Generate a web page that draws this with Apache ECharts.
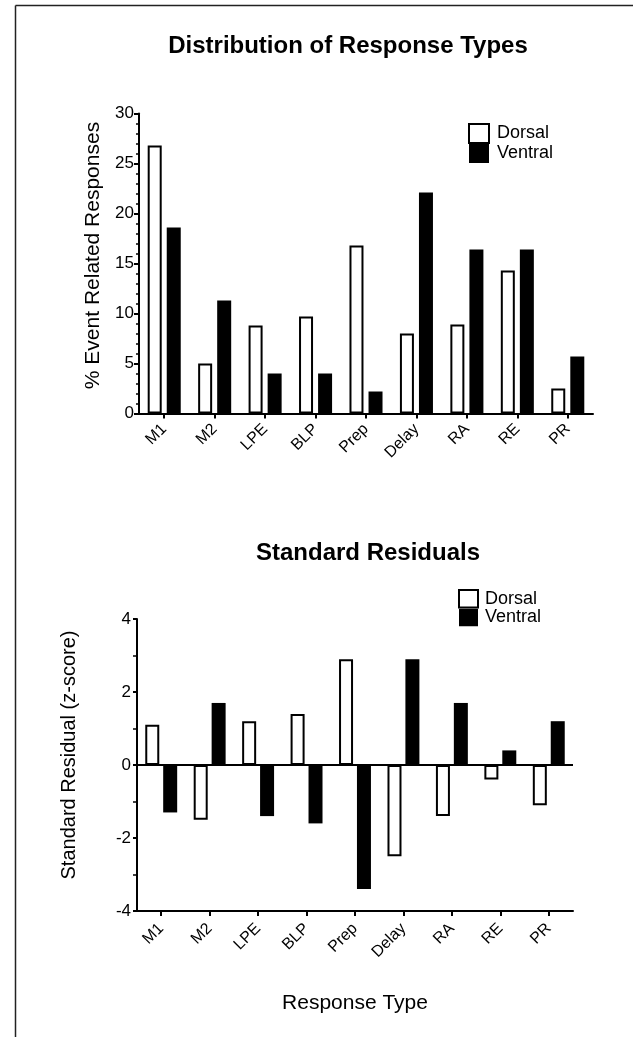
<!DOCTYPE html>
<html>
<head>
<meta charset="utf-8">
<script src="https://cdn.jsdelivr.net/npm/echarts@6/dist/echarts.min.js"></script>
<style>
html,body{margin:0;padding:0;background:#fff;}
#chart{width:633px;height:1037px;}
</style>
</head>
<body>
<div id="chart"></div>
<script>
const categories = ['M1','M2','LPE','BLP','Prep','Delay','RA','RE','PR'];
const dorsalPct = [26.8, 5.0, 8.8, 9.7, 16.8, 8.0, 8.9, 14.3, 2.5];
const ventralPct = [18.6, 11.3, 4.0, 4.0, 2.2, 22.1, 16.4, 16.4, 5.7];
const dorsalZ = [1.1, -1.5, 1.2, 1.4, 2.9, -2.5, -1.4, -0.4, -1.1];
const ventralZ = [-1.3, 1.7, -1.4, -1.6, -3.4, 2.9, 1.7, 0.4, 1.2];
const topTicks = [0, 5, 10, 15, 20, 25, 30];
const bottomTicks = [-4, -2, 0, 2, 4];
const seriesNames = ['Dorsal', 'Ventral'];

const FONT = '"Liberation Sans", Arial, Helvetica, sans-serif';
const chart = echarts.init(document.getElementById('chart'), null, {renderer: 'canvas'});

const axisLine = {show: true, onZero: false, lineStyle: {color: '#000', width: 2}};
const xAxisCommon = (gi, margin, extra) => Object.assign({
  type: 'category', gridIndex: gi, data: categories,
  axisLine: axisLine,
  axisTick: {show: true, alignWithLabel: true, length: 5, lineStyle: {color: '#000', width: 2}},
  axisLabel: {rotate: 45, margin: margin, color: '#000', fontSize: 16, fontFamily: FONT, interval: 0},
  splitLine: {show: false}
}, extra || {});

const dorsalStyle = {color: '#fff', borderColor: '#000', borderWidth: 2};
const ventralStyle = {color: '#000', borderColor: '#000', borderWidth: 0};

const option = {
  backgroundColor: '#fff',
  animation: false,
  textStyle: {fontFamily: FONT},
  title: [
    {text: 'Distribution of Response Types', left: 348, top: 34, textAlign: 'center', padding: 0,
     textStyle: {fontSize: 24, fontWeight: 'bold', color: '#000', fontFamily: FONT}},
    {text: 'Standard Residuals', left: 368, top: 541, textAlign: 'center', padding: 0,
     textStyle: {fontSize: 24, fontWeight: 'bold', color: '#000', fontFamily: FONT}}
  ],
  legend: [
    {data: seriesNames.map(n => ({name: n})), orient: 'vertical', left: 468, top: 123, itemGap: 0,
     itemWidth: 20, itemHeight: 19, icon: 'rect', padding: 0,
     textStyle: {fontSize: 18, color: '#000', fontFamily: FONT, padding: [0, 0, 0, 3]},
     seriesIndex: [0, 1]},
    {data: seriesNames.map(n => ({name: n})), orient: 'vertical', left: 458, top: 589, itemGap: 0,
     itemWidth: 19, itemHeight: 17.5, icon: 'rect', padding: 0,
     textStyle: {fontSize: 18, color: '#000', fontFamily: FONT, padding: [0, 0, 0, 2]}}
  ],
  grid: [
    {left: 139, top: 113.5, width: 454, height: 300},
    {left: 137, top: 619, width: 436, height: 292}
  ],
  xAxis: [
    xAxisCommon(0, 13),
    xAxisCommon(1, 15, {name: 'Response Type', nameLocation: 'middle', nameGap: 82,
      nameTextStyle: {fontSize: 21, color: '#000', fontFamily: FONT}})
  ],
  yAxis: [
    {type: 'value', gridIndex: 0, min: topTicks[0], max: topTicks[topTicks.length - 1], interval: 5,
     name: '% Event Related Responses', nameLocation: 'middle', nameGap: 27,
     nameTextStyle: {fontSize: 21, color: '#000', fontFamily: FONT, padding: [0, 0, 0, 16]},
     axisLine: axisLine,
     axisTick: {show: true, length: 5, lineStyle: {color: '#000', width: 2}},
     minorTick: {show: true, splitNumber: 5, length: 3, lineStyle: {color: '#000', width: 1.5}},
     axisLabel: {margin: 5, color: '#000', fontSize: 17, fontFamily: FONT},
     splitLine: {show: false}},
    {type: 'value', gridIndex: 1, min: bottomTicks[0], max: bottomTicks[bottomTicks.length - 1], interval: 2,
     name: 'Standard Residual (z-score)', nameLocation: 'middle', nameGap: 58,
     nameTextStyle: {fontSize: 20, color: '#000', fontFamily: FONT, padding: [0, 0, 0, 20]},
     axisLine: axisLine,
     axisTick: {show: true, length: 4, lineStyle: {color: '#000', width: 2}},
     minorTick: {show: true, splitNumber: 2, length: 4, lineStyle: {color: '#000', width: 1.5}},
     axisLabel: {margin: 6, color: '#000', fontSize: 17, fontFamily: FONT},
     splitLine: {show: false}}
  ],
  series: [
    {name: seriesNames[0], type: 'bar', xAxisIndex: 0, yAxisIndex: 0, data: dorsalPct,
     barWidth: 14, barGap: '36%', itemStyle: dorsalStyle},
    {name: seriesNames[1], type: 'bar', xAxisIndex: 0, yAxisIndex: 0, data: ventralPct,
     barWidth: 14, barGap: '36%', itemStyle: ventralStyle},
    {name: seriesNames[0], type: 'bar', xAxisIndex: 1, yAxisIndex: 1, data: dorsalZ,
     barWidth: 14, barGap: '28%', itemStyle: dorsalStyle,
     markLine: {silent: true, symbol: 'none', label: {show: false},
       lineStyle: {color: '#000', width: 2, type: 'solid'}, data: [{yAxis: 0}]}},
    {name: seriesNames[1], type: 'bar', xAxisIndex: 1, yAxisIndex: 1, data: ventralZ,
     barWidth: 14, barGap: '28%', itemStyle: ventralStyle}
  ],
  graphic: [
    {type: 'line', shape: {x1: 15.5, y1: 5.5, x2: 633, y2: 5.5}, style: {stroke: '#222', lineWidth: 1.5}},
    {type: 'line', shape: {x1: 15.5, y1: 5.5, x2: 15.5, y2: 1037}, style: {stroke: '#222', lineWidth: 1.5}}
  ]
};
chart.setOption(option);
</script>
</body>
</html>
